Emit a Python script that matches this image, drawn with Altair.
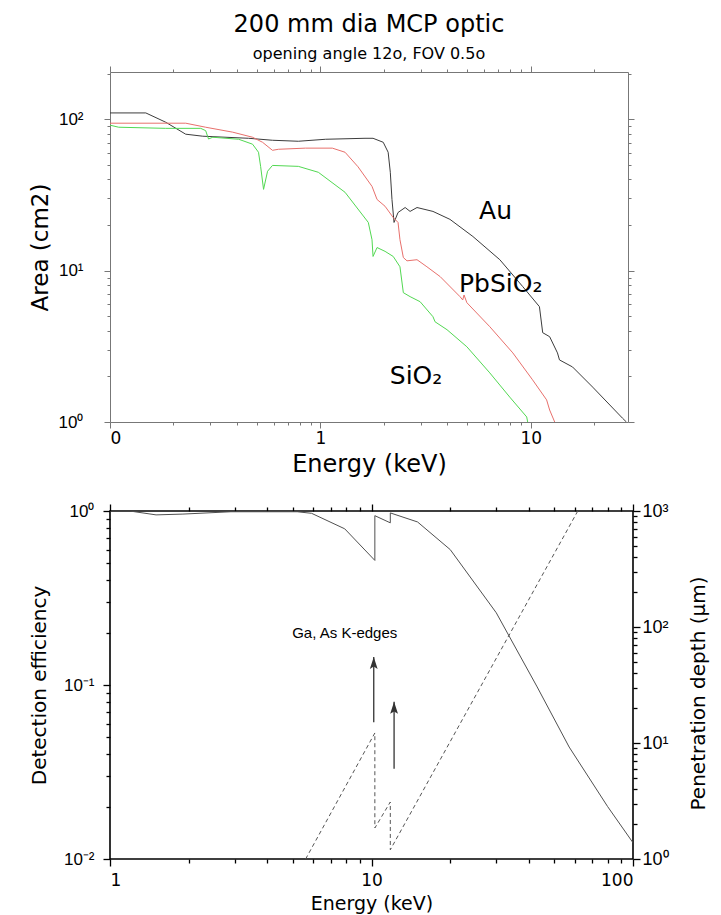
import altair as alt
import pandas as pd

# ---------------- top panel: effective area of the MCP optic ----------------
au_energy = [0.10, 0.148, 0.184, 0.229, 0.276, 0.456, 0.592, 0.786, 1.06, 1.63, 1.78, 1.99,
             2.10, 2.15, 2.19, 2.24, 2.34, 2.53, 2.67, 2.88, 3.43, 4.13, 5.31, 7.13, 9.17,
             11.0, 11.4, 12.3, 13.4, 13.7, 15.8, 19.7, 27.3, 28.5]
au_area = [110, 110, 95.5, 79.6, 77.2, 74.8, 72.6, 71.5, 73.7, 74.8, 74.8, 70.4,
           60.5, 44.6, 29.5, 20.8, 24.2, 26.1, 24.6, 26.1, 24.6, 21.8, 16.8, 11.8, 7.83,
           5.78, 3.89, 3.66, 2.86, 2.57, 2.31, 1.70, 1.06, 1.0]

pbsio2_energy = [0.10, 0.229, 0.285, 0.383, 0.476, 0.531, 0.592, 0.632, 0.849, 1.14, 1.31, 1.51,
                 1.76, 1.86, 2.03, 2.22, 2.34, 2.39, 2.48, 2.58, 2.88, 3.21, 3.71, 4.61, 4.75,
                 4.82, 4.97, 6.39, 8.22, 10.2, 11.9, 12.3, 13.0]
pbsio2_area = [94.1, 94.1, 88.5, 82.1, 76.0, 70.4, 62.3, 63.3, 64.4, 64.4, 60.5, 48.5,
               36.0, 29.5, 26.6, 22.4, 20.8, 16.0, 12.2, 11.6, 11.8, 10.6, 9.13, 6.73, 6.4,
               6.9, 6.14, 4.26, 2.86, 1.90, 1.40, 1.20, 1.0]

sio2_energy = [0.10, 0.110, 0.184, 0.270, 0.285, 0.294, 0.308, 0.409, 0.476, 0.508, 0.520, 0.537,
               0.561, 0.592, 0.786, 0.978, 1.31, 1.69, 1.76, 1.78, 1.86, 2.03, 2.22, 2.39,
               2.48, 2.67, 2.98, 3.43, 3.51, 4.00, 4.97, 6.39, 7.95, 9.57, 9.67]
sio2_area = [91.3, 88.5, 87.0, 87.0, 84.0, 74.0, 76.0, 73.7, 68.4, 60.5, 48.8, 34.4,
             45.3, 49.5, 48.8, 44.6, 32.9, 20.8, 16.0, 12.4, 14.2, 13.4, 12.4, 10.6,
             7.15, 6.73, 6.23, 4.96, 4.59, 4.07, 3.14, 2.11, 1.46, 1.08, 1.0]

materials = ["Au", "PbSiO2", "SiO2"]
material_colors = ["#3c3c3c", "#e8706c", "#52d852"]

curve_label_text = ["Au", "PbSiO₂", "SiO₂"]
curve_label_energy = [6.8, 7.2, 2.85]
curve_label_area = [24.6, 8.1, 2.0]

top_x_major = [0.1, 1, 10]
top_x_minor = [0.2, 0.3, 0.4, 0.5, 0.6, 0.7, 0.8, 0.9, 2, 3, 4, 5, 6, 7, 8, 9, 20]
top_y_major = [1, 10, 100]
top_y_minor = [2, 3, 4, 5, 6, 7, 8, 9, 20, 30, 40, 50, 60, 70, 80, 90, 200]

# ---------------- bottom panel: detector efficiency / penetration depth ----------------
eff_energy = [1.0, 1.19, 1.5, 1.9, 2.9, 5.2, 5.9, 7.9, 10.3, 10.3, 11.8, 11.8,
              15.0, 20.0, 30.0, 43.0, 57.0, 80.0, 100.0]
eff_value = [1.0, 1.0, 0.95, 0.96, 0.99, 0.99, 0.97, 0.79, 0.52, 0.94, 0.855, 0.975,
             0.865, 0.60, 0.26, 0.0975, 0.044, 0.020, 0.0124]

depth_energy = [5.6, 10.3, 10.3, 11.8, 11.8, 61.5]
depth_value = [1.0, 12.2, 1.85, 3.1, 1.2, 1000]

arrow_energy = [10.2, 12.2]
arrow_base = [0.061, 0.033]
arrow_tip = [0.145, 0.080]

note_text = ["Ga, As K-edges"]
note_energy = [7.9]
note_eff = [0.20]

bot_x_major = [1, 10, 100]
bot_x_minor = [2, 3, 4, 5, 6, 7, 8, 9, 20, 30, 40, 50, 60, 70, 80, 90]
eff_major = [0.01, 0.1, 1]
eff_minor = [0.02, 0.03, 0.04, 0.05, 0.06, 0.07, 0.08, 0.09,
             0.2, 0.3, 0.4, 0.5, 0.6, 0.7, 0.8, 0.9]
depth_major = [1, 10, 100, 1000]
depth_minor = [2, 3, 4, 5, 6, 7, 8, 9, 20, 30, 40, 50, 60, 70, 80, 90,
               200, 300, 400, 500, 600, 700, 800, 900]

# ---------------- tables ----------------
rows = []
for name, es, vs in zip(materials, [au_energy, pbsio2_energy, sio2_energy],
                        [au_area, pbsio2_area, sio2_area]):
    for i, (e, v) in enumerate(zip(es, vs)):
        rows.append({"material": name, "energy": e, "area": v, "i": i})
curves = pd.DataFrame(rows)
labels_df = pd.DataFrame({"label": curve_label_text, "energy": curve_label_energy,
                          "area": curve_label_area})

eff_df = pd.DataFrame({"energy": eff_energy, "eff": eff_value, "i": range(len(eff_energy))})
depth_df = pd.DataFrame({"energy": depth_energy, "depth": depth_value,
                         "i": range(len(depth_energy))})
arrow_df = pd.DataFrame({"energy": arrow_energy, "base": arrow_base, "tip": arrow_tip})
note_df = pd.DataFrame({"text": note_text, "energy": note_energy, "eff": note_eff})

SANS = "Liberation Sans"
WIDE = "DejaVu Sans"


def tick_axis(orient, values, color, size, width):
    """An axis that only draws tick marks on one edge of the frame."""
    return alt.Axis(orient=orient, values=values, labels=False, domain=False, grid=False,
                    ticks=True, title=None, tickColor=color, tickWidth=width,
                    tickSize=size, tickOpacity=1)


def tick_layers(df, xfield, yfield_a, yscale_a, yfield_b, yscale_b, xscale,
                xmaj, xmin, ya_maj, ya_min, yb_maj, yb_min, color, maj, mnr, width):
    """Ticks on all four edges. y 'a' = left edge scale, y 'b' = right edge scale."""
    specs = [
        ("bottom", xmaj, maj, "left", ya_maj, maj, yfield_a, yscale_a),
        ("bottom", xmin, mnr, "left", ya_min, mnr, yfield_a, yscale_a),
        ("top", xmaj, maj, "right", yb_maj, maj, yfield_b, yscale_b),
        ("top", xmin, mnr, "right", yb_min, mnr, yfield_b, yscale_b),
    ]
    out = []
    for xo, xv, xs_, yo, yv, ys_, yf, ysc in specs:
        out.append(
            alt.Chart(df).mark_point(opacity=0).encode(
                x=alt.X(f"{xfield}:Q", scale=xscale, axis=tick_axis(xo, xv, color, xs_, width)),
                y=alt.Y(f"{yf}:Q", scale=ysc, axis=tick_axis(yo, yv, color, ys_, width)),
            )
        )
    return out


# ---------------- top panel ----------------
W1, H1 = 518, 350
GRAY = "#777777"
xs1 = alt.Scale(type="log", domain=[0.1, 29], nice=False)
ys1 = alt.Scale(type="log", domain=[1, 205], nice=False)

top_lines = alt.Chart(curves).mark_line(strokeWidth=1, clip=True).encode(
    x=alt.X("energy:Q", scale=xs1,
            axis=alt.Axis(orient="bottom", values=top_x_major, ticks=False, domain=False,
                          grid=False, labelExpr="'' + floor(datum.value)", labelFont=WIDE,
                          labelFontSize=17, labelPadding=8, labelColor="black",
                          title="Energy (keV)", titleFont=WIDE, titleFontSize=24,
                          titleFontWeight="normal", titleColor="black", titleX=W1 / 2,
                          titleY=49, titleAlign="center", titleBaseline="alphabetic")),
    y=alt.Y("area:Q", scale=ys1,
            axis=alt.Axis(orient="left", values=top_y_major, ticks=False, domain=False,
                          grid=False,
                          labelExpr="'10' + (datum.value >= 50 ? '²' : datum.value >= 5 ? '¹' : '⁰')",
                          labelFont=SANS, labelFontSize=17, labelPadding=27,
                          labelColor="black", title="Area (cm2)", titleFont=WIDE,
                          titleFontSize=23, titleFontWeight="normal", titleColor="black",
                          titleAngle=270, titleX=-63, titleY=H1 / 2, titleAlign="center",
                          titleBaseline="alphabetic")),
    color=alt.Color("material:N", scale=alt.Scale(domain=materials, range=material_colors),
                    legend=None),
    order="i:Q",
)

top_labels = alt.Chart(labels_df).mark_text(font=WIDE, fontSize=25, color="black",
                                            align="center", baseline="middle").encode(
    x=alt.X("energy:Q", scale=xs1, axis=None),
    y=alt.Y("area:Q", scale=ys1, axis=None),
    text="label:N",
)

top_tick_layers = tick_layers(labels_df, "energy", "area", ys1, "area", ys1, xs1,
                              top_x_major, top_x_minor, top_y_major, top_y_minor,
                              top_y_major, top_y_minor, GRAY, 6, 3, 1)

top = alt.layer(top_lines, top_labels, *top_tick_layers).resolve_axis(
    x="independent", y="independent"
).properties(
    width=W1, height=H1,
    title=alt.TitleParams(text="200 mm dia MCP optic", subtitle="opening angle 12o, FOV 0.5o",
                          font=WIDE, fontSize=24, fontWeight="normal", color="black",
                          subtitleFont=WIDE, subtitleFontSize=16, subtitleColor="black",
                          anchor="middle", frame="group", offset=4, subtitlePadding=9),
    view=alt.ViewBackground(stroke=GRAY, strokeWidth=1),
)

# ---------------- bottom panel ----------------
W2, H2 = 523, 348
xs2 = alt.Scale(type="log", domain=[1, 100], nice=False)
ys_eff = alt.Scale(type="log", domain=[0.01, 1], nice=False)
ys_dep = alt.Scale(type="log", domain=[1, 1000], nice=False)

eff_line = alt.Chart(eff_df).mark_line(color="#505050", strokeWidth=1, clip=True).encode(
    x=alt.X("energy:Q", scale=xs2,
            axis=alt.Axis(orient="bottom", values=bot_x_major, ticks=False, domain=False,
                          grid=False, labelExpr="'' + datum.value", labelFont=WIDE,
                          labelFontSize=17, labelPadding=13, labelColor="black",
                          title="Energy  (keV)", titleFont=WIDE, titleFontSize=19,
                          titleFontWeight="normal", titleColor="black", titleX=W2 / 2,
                          titleY=50, titleAlign="center", titleBaseline="alphabetic")),
    y=alt.Y("eff:Q", scale=ys_eff,
            axis=alt.Axis(orient="left", values=eff_major, ticks=False, domain=False,
                          grid=False,
                          labelExpr="'10' + (datum.value >= 0.5 ? '⁰' : datum.value >= 0.05 ? '⁻¹' : '⁻²')",
                          labelFont=SANS, labelFontSize=17, labelPadding=16,
                          labelColor="black", title="Detection  efficiency", titleFont=WIDE,
                          titleFontSize=20, titleFontWeight="normal", titleColor="black",
                          titleAngle=270, titleX=-65, titleY=H2 / 2, titleAlign="center",
                          titleBaseline="alphabetic")),
    order="i:Q",
)

depth_line = alt.Chart(depth_df).mark_line(color="#555555", strokeWidth=1, strokeDash=[4, 3],
                                           clip=True).encode(
    x=alt.X("energy:Q", scale=xs2, axis=None),
    y=alt.Y("depth:Q", scale=ys_dep,
            axis=alt.Axis(orient="right", values=depth_major, ticks=False, domain=False,
                          grid=False,
                          labelExpr="'10' + (datum.value >= 500 ? '³' : datum.value >= 50 ? '²' : datum.value >= 5 ? '¹' : '⁰')",
                          labelFont=SANS, labelFontSize=18, labelPadding=9,
                          labelColor="black", title="Penetration  depth  (µm)",
                          titleFont=WIDE, titleFontSize=20, titleFontWeight="normal",
                          titleColor="black", titleAngle=270, titleX=71, titleY=182,
                          titleAlign="center", titleBaseline="alphabetic")),
    order="i:Q",
)

arrow_shafts = alt.Chart(arrow_df).mark_rule(color="#333333", strokeWidth=1.3).encode(
    x=alt.X("energy:Q", scale=xs2, axis=None),
    y=alt.Y("base:Q", scale=ys_eff, axis=None),
    y2=alt.Y2("tip:Q"),
)

arrow_heads = alt.Chart(arrow_df).mark_point(
    shape="M0,0L0.65,2L0,1.6L-0.65,2Z", size=144, filled=True, color="#333333", opacity=1
).encode(
    x=alt.X("energy:Q", scale=xs2, axis=None),
    y=alt.Y("tip:Q", scale=ys_eff, axis=None),
)

note = alt.Chart(note_df).mark_text(font=SANS, fontSize=15, color="black", align="center",
                                    baseline="middle").encode(
    x=alt.X("energy:Q", scale=xs2, axis=None),
    y=alt.Y("eff:Q", scale=ys_eff, axis=None),
    text="text:N",
)

# left edge ticks follow efficiency, right edge ticks follow penetration depth
tick_df = pd.DataFrame({"energy": [1.0, 100.0], "eff": [0.01, 1.0], "depth": [1.0, 1000.0]})
bot_tick_layers = tick_layers(tick_df, "energy", "eff", ys_eff, "depth", ys_dep, xs2,
                              bot_x_major, bot_x_minor, eff_major, eff_minor,
                              depth_major, depth_minor, "black", 7, 4, 1.3)

bottom = alt.layer(eff_line, depth_line, arrow_shafts, arrow_heads, note,
                   *bot_tick_layers).resolve_scale(
    y="independent"
).resolve_axis(
    x="independent", y="independent"
).properties(
    width=W2, height=H2,
    view=alt.ViewBackground(stroke="black", strokeWidth=1.6),
)

chart = alt.vconcat(top, bottom, spacing=89, bounds="flush").properties(
    padding={"left": 28, "top": 12, "right": 5, "bottom": 5},
    background="white",
)

chart.save("out.html", embed_options={"renderer": "svg", "actions": False})
